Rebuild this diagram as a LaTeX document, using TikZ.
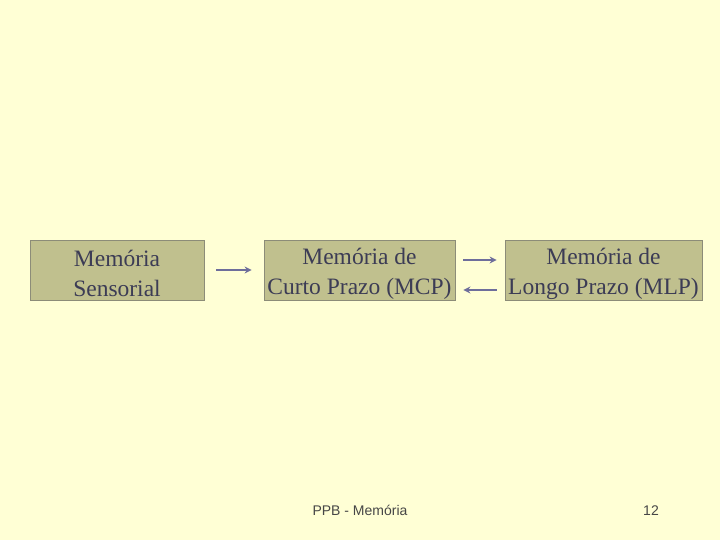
\documentclass[tikz,border=0pt]{standalone}
\usepackage{fontspec}
\setmainfont{Liberation Serif}
\setsansfont{Liberation Sans}
\usetikzlibrary{arrows.meta, positioning}
\definecolor{slidebg}{RGB}{255,255,213}
\definecolor{boxfill}{RGB}{192,192,142}
\definecolor{boxline}{RGB}{140,140,120}
\definecolor{boxtext}{RGB}{60,60,85}
\definecolor{arrowcol}{RGB}{110,110,155}
\definecolor{foottext}{RGB}{70,70,70}
\tikzset{
  membox/.style={draw=boxline, line width=0.8pt, fill=boxfill, inner sep=0pt,
    minimum height=60pt},
  memtext/.style={inner sep=0pt, align=center, text=boxtext, yshift=-3.5pt,
    font=\fontsize{23.5}{30}\selectfont},
  flow/.style={draw=arrowcol, line width=2.8pt, -{Stealth[length=7pt, width=7pt]}},
  foot/.style={font=\sffamily\fontsize{14}{16}\selectfont, text=foottext, anchor=base}
}
\begin{document}
\begin{tikzpicture}[x=1pt, y=-1pt]
% Background
\fill[slidebg] (0,0) rectangle (720,540);
\useasboundingbox (0,0) rectangle (720,540);
% Memory boxes
\node[membox, minimum width=174pt, label={[memtext]center:Memória\\Sensorial}] (sens) at (117,270) {};
\node[membox, minimum width=191pt, label={[memtext]center:Memória de\\Curto Prazo (MCP)}] (mcp) at (359.5,270) {};
\node[membox, minimum width=197pt, label={[memtext]center:Memória de\\Longo Prazo (MLP)}] (mlp) at (603.5,270) {};
% Arrows
\draw[flow, shorten <=12pt, shorten >=12pt] (sens.east) -- (mcp.west);
\draw[flow, shorten <=8pt, shorten >=8pt] ([yshift=10pt]mcp.east) -- ([yshift=10pt]mlp.west);
\draw[flow, shorten <=8pt, shorten >=8pt] ([yshift=-20pt]mlp.west) -- ([yshift=-20pt]mcp.east);
% Footer
\node[foot] (title) at (360,515) {PPB - Memória};
\node[foot] (pagenum) at (651,515) {12};
\end{tikzpicture}
\end{document}
